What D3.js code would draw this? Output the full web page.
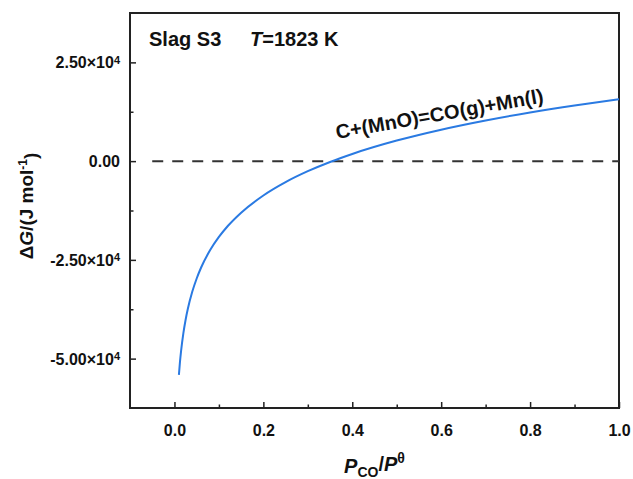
<!DOCTYPE html>
<html>
<head>
<meta charset="utf-8">
<script src="https://cdn.jsdelivr.net/npm/d3@7"></script>
<style>
  body { margin: 0; background: #fff; }
  svg text { font-family: "Liberation Sans", Arial, sans-serif; font-weight: bold; fill: #111; }
</style>
</head>
<body>
<div id="chart"></div>
<script>
// Data --------------------------------------------------------------------------------------------
// P_CO / P° values
const pco = [0.01, 0.0125, 0.015, 0.02, 0.025, 0.03, 0.04, 0.05, 0.06, 0.08, 0.1, 0.12, 0.15,
             0.2, 0.25, 0.3, 0.35, 0.4, 0.5, 0.6, 0.7, 0.8, 0.9, 1.0];
// ΔG (J/mol)
const dG = [-54100, -50710, -47950, -43590, -40210, -37450, -33090, -29710, -26930, -22580,
            -19200, -16430, -13050, -8690, -5310, -2550, -210, 1820, 5200, 7960, 10290,
            12320, 14110, 15700];
const curveData = pco.map((p, i) => ({x: p, y: dG[i]}));

const xTicks = [0, 0.2, 0.4, 0.6, 0.8, 1.0];
const xMinor = [0.1, 0.3, 0.5, 0.7, 0.9];
const yTicks = [-50000, -25000, 0, 25000];
const yMinor = [-37500, -12500, 12500];
const zeroLine = [-0.05, 1.0];

// Dimensions --------------------------------------------------------------------------------------
const width = 633, height = 479;
const margin = {top: 13, right: 14, bottom: 71, left: 130};
const innerW = width - margin.left - margin.right,
      innerH = height - margin.top - margin.bottom;

const svg = d3.select("#chart").append("svg")
  .attr("width", width)
  .attr("height", height);

const g = svg.append("g")
  .attr("transform", `translate(${margin.left},${margin.top})`);

// Scales
const x = d3.scaleLinear().domain([-0.1, 1.0]).range([0, innerW]);
const y = d3.scaleLinear().domain([-62500, 37500]).range([innerH, 0]);

// Axes ----------------------------------------------------------------------------------------------
// X axis (ticks inward)
const xAxis = g.append("g")
  .attr("transform", `translate(0,${innerH})`)
  .call(d3.axisBottom(x).tickValues(xTicks).tickSize(-6).tickPadding(17)
    .tickFormat(d3.format(".1f")));
xAxis.select(".domain").remove();
xAxis.selectAll("text").style("font-size", "16px");

g.append("g")
  .attr("transform", `translate(0,${innerH})`)
  .call(d3.axisBottom(x).tickValues(xMinor).tickSize(-3.5).tickFormat(""))
  .select(".domain").remove();

// Y axis (ticks inward)
const yAxis = g.append("g")
  .call(d3.axisLeft(y).tickValues(yTicks).tickSize(-6).tickPadding(10).tickFormat(""));
yAxis.select(".domain").remove();
yAxis.selectAll(".tick").append("text")
  .attr("x", -10)
  .attr("dy", "0.35em")
  .attr("text-anchor", "end")
  .style("font-size", "16px")
  .each(function(d) {
    const t = d3.select(this);
    if (d === 0) { t.text("0.00"); return; }
    t.append("tspan").text((d / 1e4).toFixed(2) + "×10");
    t.append("tspan").attr("dy", "-0.45em").style("font-size", "11px").text("4");
  });

g.append("g")
  .call(d3.axisLeft(y).tickValues(yMinor).tickSize(-3.5).tickFormat(""))
  .select(".domain").remove();

g.selectAll(".tick line").attr("stroke", "#222").attr("stroke-width", 1.5);

// Frame
g.append("rect")
  .attr("width", innerW)
  .attr("height", innerH)
  .attr("fill", "none")
  .attr("stroke", "#222")
  .attr("stroke-width", 2);

// Zero line -----------------------------------------------------------------------------------------
g.append("line")
  .attr("x1", x(zeroLine[0]))
  .attr("x2", x(zeroLine[1]))
  .attr("y1", y(0))
  .attr("y2", y(0))
  .attr("stroke", "#333")
  .attr("stroke-width", 2)
  .attr("stroke-dasharray", "11,9");

// Curve ---------------------------------------------------------------------------------------------
const line = d3.line()
  .curve(d3.curveMonotoneX)
  .x(d => x(d.x))
  .y(d => y(d.y));

g.append("path")
  .datum(curveData)
  .attr("d", line)
  .attr("fill", "none")
  .attr("stroke", "#2a7ae2")
  .attr("stroke-width", 2);

// Labels --------------------------------------------------------------------------------------------
const title = svg.append("text")
  .attr("x", 149)
  .attr("y", 46)
  .style("font-size", "20px");
title.append("tspan").text("Slag S3");
title.append("tspan").attr("x", 250).style("font-style", "italic").text("T");
title.append("tspan").text("=1823 K");

svg.append("text")
  .attr("transform", "translate(337,139) rotate(-10)")
  .style("font-size", "20px")
  .text("C+(MnO)=CO(g)+Mn(l)");

// X label
const xLabel = svg.append("text")
  .attr("x", margin.left + innerW / 2)
  .attr("y", 473)
  .attr("text-anchor", "middle")
  .style("font-size", "20px");
xLabel.append("tspan").style("font-style", "italic").text("P");
xLabel.append("tspan").attr("dy", "0.3em").style("font-size", "14px").text("CO");
xLabel.append("tspan").attr("dy", "-0.3em").text("/");
xLabel.append("tspan").style("font-style", "italic").text("P");
xLabel.append("tspan").attr("dy", "-0.6em").style("font-size", "14px").text("θ");

// Y label
const yLabel = svg.append("text")
  .attr("transform", "translate(33,206) rotate(-90)")
  .attr("text-anchor", "middle")
  .style("font-size", "19px");
yLabel.append("tspan").text("Δ");
yLabel.append("tspan").style("font-style", "italic").text("G");
yLabel.append("tspan").text("/(J mol");
yLabel.append("tspan").attr("dy", "-0.5em").style("font-size", "12px").text("-1");
yLabel.append("tspan").attr("dy", "0.5em").text(")");
</script>
</body>
</html>
